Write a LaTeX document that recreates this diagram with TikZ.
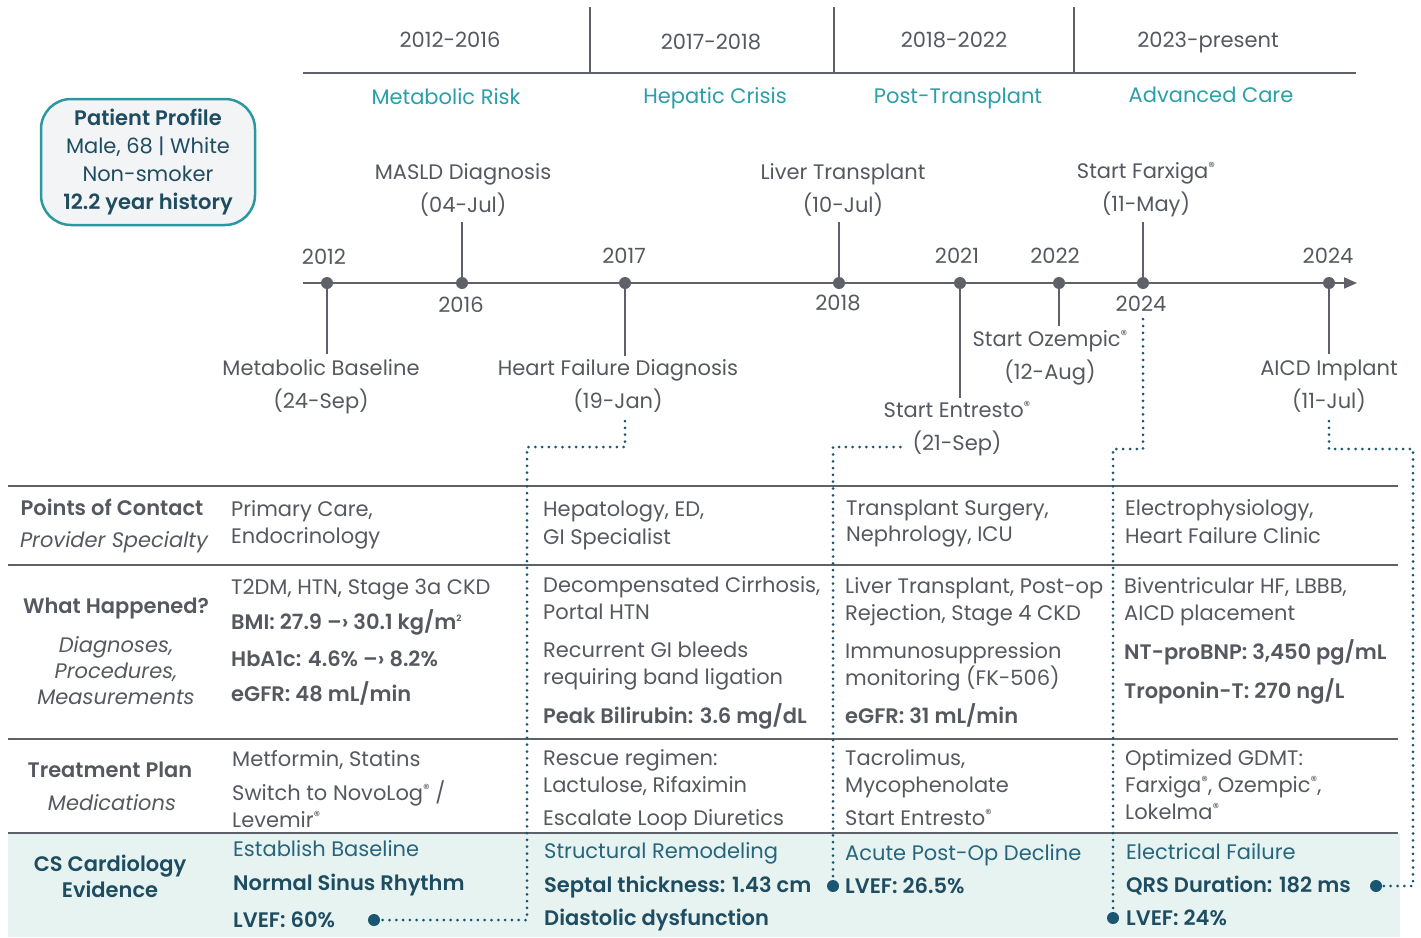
\documentclass[tikz,border=0pt]{standalone}
\usepackage{fontspec}
\setmainfont{Poppins}[BoldFont={Poppins SemiBold}, BoldItalicFont={Poppins SemiBold Italic}]
\usetikzlibrary{arrows.meta,calc}
\definecolor{txtgray}{HTML}{55595F}
\definecolor{linegray}{HTML}{5E6268}
\definecolor{phaseteal}{HTML}{2A9FA8}
\definecolor{deepteal}{HTML}{1E4D62}
\definecolor{midteal}{HTML}{26657B}
\definecolor{dotteal}{HTML}{1A5670}
\definecolor{shadeteal}{HTML}{E7F3F1}
\definecolor{boxfill}{HTML}{F3F4F6}
\definecolor{boxline}{HTML}{2A98A0}
\newcommand\fs{\fontsize{21}{25}\selectfont}
\newcommand\rg{\raisebox{0.55ex}{\scalebox{0.62}{®}}}
\tikzset{
  base/.style={inner sep=0pt, font=\fs, text=txtgray},
  cell/.style={base, anchor=base west},
  cellb/.style={cell, font=\fs\bfseries},
  ctr/.style={base, anchor=base},
  ctrb/.style={ctr, font=\fs\bfseries},
  ctri/.style={ctr, font=\fs\itshape},
  phase/.style={ctr, text=phaseteal},
  tdot/.style={circle, fill=linegray, inner sep=0pt, minimum size=12pt},
  edot/.style={circle, fill=dotteal, inner sep=0pt, minimum size=12pt},
  stem/.style={draw=linegray, line width=1.4pt},
  conn/.style={draw=dotteal, line width=3pt, line cap=round, dash pattern=on 0pt off 6.8pt},
  rule/.style={draw=linegray, line width=1.5pt},
}
\begin{document}
\begin{tikzpicture}[x=1pt,y=-1pt]
\useasboundingbox (0,0) rectangle (1421,937);
% ---------- header ----------
\coordinate (hl) at (303,73);
\coordinate (hr) at (1356,73);
\draw[rule, line width=1.3pt] (hl) -- (hr);
\foreach \x in {590,834,1074} \draw[rule, line width=1.3pt] (\x,7) -- (\x,73);
\node[ctr] (p1) at (450,47) {2012-2016};
\node[ctr] (p2) at (711,49) {2017-2018};
\node[ctr] (p3) at (954,47) {2018-2022};
\node[ctr] (p4) at (1208,47) {2023-present};
\node[phase] (ph1) at (446,104) {Metabolic Risk};
\node[phase] (ph2) at (715,103) {Hepatic Crisis};
\node[phase] (ph3) at (958,103) {Post-Transplant};
\node[phase] (ph4) at (1211,102) {Advanced Care};
% ---------- patient profile ----------
\node[draw=boxline, line width=2.5pt, fill=boxfill, rounded corners=30pt,
      minimum width=214pt, minimum height=126pt, align=center, inner sep=0pt,
      text=deepteal, font=\fontsize{21}{28.3}\selectfont] (profile) at (148,162)
  {\textbf{Patient Profile}\\Male, 68 | White\\Non-smoker\\\textbf{12.2 year history}};
% ---------- timeline ----------
\coordinate (axL) at (303,283);
\coordinate (axR) at (1357,283);
\draw[draw=linegray, line width=1.8pt, -{Triangle[length=13pt,width=11pt]}] (axL) -- (axR);
\node[tdot] (d2012) at (327,283) {};
\node[tdot] (d2016) at (462,283) {};
\node[tdot] (d2017) at (625,283) {};
\node[tdot] (d2018) at (839,283) {};
\node[tdot] (d2021) at (960,283) {};
\node[tdot] (d2022) at (1059,283) {};
\node[tdot] (d2024a) at (1143,283) {};
\node[tdot] (d2024b) at (1329,283) {};
% year labels
\node[ctr] (y2012) at (324,264) {2012};
\node[ctr] (y2016) at (461,312) {2016};
\node[ctr] (y2017) at (624,263) {2017};
\node[ctr] (y2018) at (838,310) {2018};
\node[ctr] (y2021) at (957,263) {2021};
\node[ctr] (y2022) at (1055,263) {2022};
\node[ctr] (y2024a) at (1141,311) {2024};
\node[ctr] (y2024b) at (1328,263) {2024};
% event labels
\node[ctr] (e1) at (321,375) {Metabolic Baseline};
\node[ctr] (e1d) at (321,408) {(24-Sep)};
\node[ctr] (e2) at (463,179) {MASLD Diagnosis};
\node[ctr] (e2d) at (463,212) {(04-Jul)};
\node[ctr] (e3) at (618,375) {Heart Failure Diagnosis};
\node[ctr] (e3d) at (618,408) {(19-Jan)};
\node[ctr] (e4) at (843,179) {Liver Transplant};
\node[ctr] (e4d) at (843,212) {(10-Jul)};
\node[ctr] (e5) at (957,417) {Start Entresto\rg};
\node[ctr] (e5d) at (957,450) {(21-Sep)};
\node[ctr] (e6) at (1050,346) {Start Ozempic\rg};
\node[ctr] (e6d) at (1050,379) {(12-Aug)};
\node[ctr] (e7) at (1146,178) {Start Farxiga\rg};
\node[ctr] (e7d) at (1146,211) {(11-May)};
\node[ctr] (e8) at (1329,375) {AICD Implant};
\node[ctr] (e8d) at (1329,408) {(11-Jul)};
% stems
\draw[stem] (d2012) -- (d2012 |- 0,354);
\draw[stem] (d2016) -- (d2016 |- 0,222);
\draw[stem] (d2017) -- (d2017 |- 0,356);
\draw[stem] (d2018) -- (d2018 |- 0,222);
\draw[stem] (d2021) -- (d2021 |- 0,398);
\draw[stem] (d2022) -- (d2022 |- 0,326);
\draw[stem] (d2024a) -- (d2024a |- 0,222);
\draw[stem] (d2024b) -- (d2024b |- 0,354);
% ---------- table ----------
\fill[shadeteal] (8,833) rectangle (1400,937);
\foreach \y in {486,565,739,833} \draw[rule] (8,\y) -- (1398,\y);
% row headers
\node[ctrb] (h1) at (112,515) {Points of Contact};
\node[ctri] (h1i) at (114,547) {Provider Specialty};
\node[ctrb] (h2) at (116,613) {What Happened?};
\node[ctri] (h2a) at (116,652) {Diagnoses,};
\node[ctri] (h2b) at (116,678) {Procedures,};
\node[ctri] (h2c) at (116,704) {Measurements};
\node[ctrb] (h3) at (110,777) {Treatment Plan};
\node[ctri] (h3i) at (112,810) {Medications};
\node[ctrb, text=deepteal] (h4a) at (110,871) {CS Cardiology};
\node[ctrb, text=deepteal] (h4b) at (110,897) {Evidence};
% row 1
\node[cell] (r1c1a) at (231,516) {Primary Care,};
\node[cell] (r1c1b) at (231,543) {Endocrinology};
\node[cell] (r1c2a) at (543,516) {Hepatology, ED,};
\node[cell] (r1c2b) at (543,544) {GI Specialist};
\node[cell] (r1c3a) at (846,515) {Transplant Surgery,};
\node[cell] (r1c3b) at (846,541) {Nephrology, ICU};
\node[cell] (r1c4a) at (1125,515) {Electrophysiology,};
\node[cell] (r1c4b) at (1125,543) {Heart Failure Clinic};
% row 2
\node[cell] (r2c1a) at (231,594) {T2DM, HTN, Stage 3a CKD};
\node[cellb] (r2c1b) at (231,629) {BMI: 27.9 –› 30.1 kg/m\textsuperscript{\scalebox{0.6}{2}}};
\node[cellb] (r2c1c) at (231,666) {HbA1c: 4.6\% –› 8.2\%};
\node[cellb] (r2c1d) at (231,701) {eGFR: 48 mL/min};
\node[cell] (r2c2a) at (543,592) {Decompensated Cirrhosis,};
\node[cell] (r2c2b) at (543,619) {Portal HTN};
\node[cell] (r2c2c) at (543,657) {Recurrent GI bleeds};
\node[cell] (r2c2d) at (543,684) {requiring band ligation};
\node[cellb] (r2c2e) at (543,723) {Peak Bilirubin: 3.6 mg/dL};
\node[cell] (r2c3a) at (845,593) {Liver Transplant, Post-op};
\node[cell] (r2c3b) at (845,620) {Rejection, Stage 4 CKD};
\node[cell] (r2c3c) at (845,658) {Immunosuppression};
\node[cell] (r2c3d) at (845,685) {monitoring (FK-506)};
\node[cellb] (r2c3e) at (845,723) {eGFR: 31 mL/min};
\node[cell] (r2c4a) at (1124,593) {Biventricular HF, LBBB,};
\node[cell] (r2c4b) at (1124,620) {AICD placement};
\node[cellb] (r2c4c) at (1124,659) {NT-proBNP: 3,450 pg/mL};
\node[cellb] (r2c4d) at (1124,698) {Troponin-T: 270 ng/L};
% row 3
\node[cell] (r3c1a) at (232,766) {Metformin, Statins};
\node[cell] (r3c1b) at (232,800) {Switch to NovoLog\rg{} /};
\node[cell] (r3c1c) at (232,827) {Levemir\rg};
\node[cell] (r3c2a) at (543,765) {Rescue regimen:};
\node[cell] (r3c2b) at (543,792) {Lactulose, Rifaximin};
\node[cell] (r3c2c) at (543,825) {Escalate Loop Diuretics};
\node[cell] (r3c3a) at (845,765) {Tacrolimus,};
\node[cell] (r3c3b) at (845,792) {Mycophenolate};
\node[cell] (r3c3c) at (845,825) {Start Entresto\rg};
\node[cell] (r3c4a) at (1125,765) {Optimized GDMT:};
\node[cell] (r3c4b) at (1125,792) {Farxiga\rg, Ozempic\rg,};
\node[cell] (r3c4c) at (1125,819) {Lokelma\rg};
% row 4
\node[cell, text=midteal] (r4c1a) at (233,856) {Establish Baseline};
\node[cellb, text=deepteal] (r4c1b) at (233,890) {Normal Sinus Rhythm};
\node[cellb, text=deepteal] (r4c1c) at (233,927) {LVEF: 60\%};
\node[cell, text=midteal] (r4c2a) at (544,858) {Structural Remodeling};
\node[cellb, text=deepteal] (r4c2b) at (544,892) {Septal thickness: 1.43 cm};
\node[cellb, text=deepteal] (r4c2c) at (544,925) {Diastolic dysfunction};
\node[cell, text=midteal] (r4c3a) at (845,860) {Acute Post-Op Decline};
\node[cellb, text=deepteal] (r4c3b) at (845,893) {LVEF: 26.5\%};
\node[cell, text=midteal] (r4c4a) at (1126,859) {Electrical Failure};
\node[cellb, text=deepteal] (r4c4b) at (1126,892) {QRS Duration: 182 ms};
\node[cellb, text=deepteal] (r4c4c) at (1126,925) {LVEF: 24\%};
% ---------- dotted connectors ----------
\node[edot] (lv60) at (374,920) {};
\node[edot] (lv265) at (833,886) {};
\node[edot] (lv24) at (1113,918) {};
\node[edot] (qrs) at (1376,886) {};
\coordinate (k1) at (527,447);
\coordinate (k2) at (833,447);
\coordinate (k3) at (1113,449);
\coordinate (k4) at (1413,449);
\draw[conn] ([yshift=-9pt]e3d.south -| d2017) |- (k1) -- (k1 |- lv60) -- (lv60);
\draw[conn] ([xshift=-12pt]e5d.west |- k2) -- (k2) -- (lv265);
\draw[conn] ([yshift=-8pt]y2024a.south -| d2024a) |- (k3) -- (lv24);
\draw[conn] ([yshift=-9pt]e8d.south -| d2024b) |- (k4) -- (k4 |- qrs) -- (qrs);
\end{tikzpicture}
\end{document}
